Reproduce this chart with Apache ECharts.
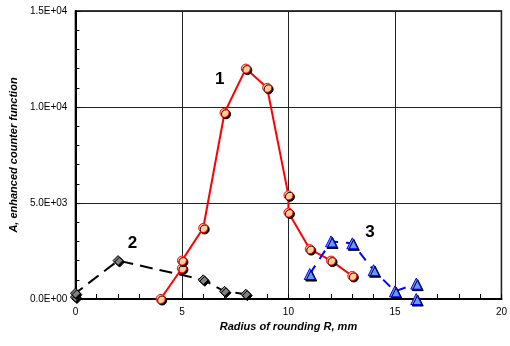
<!DOCTYPE html>
<html>
<head>
<meta charset="utf-8">
<script src="https://cdn.jsdelivr.net/npm/echarts@6/dist/echarts.min.js"></script>
<style>
  html, body { margin: 0; padding: 0; background: #fff; }
  #chart { width: 510px; height: 346px; }
</style>
</head>
<body>
<div id="chart"></div>
<script>
// Curve 1 (red, circles)
const r1 = [4, 5, 5, 6, 7, 8, 9, 10, 10, 11, 12, 13];
const a1 = [0, 1600, 2000, 3700, 9700, 12000, 11000, 5400, 4500, 2600, 2000, 1200];
// Curve 2 (black dashed, diamonds)
const r2 = [0, 0, 2, 6, 7, 8];
const a2 = [100, 300, 2000, 1000, 400, 250];
// Curve 3 (blue dashed, triangles)
const r3 = [11, 12, 13, 14, 15, 16, 16];
const a3 = [1300, 3000, 2900, 1500, 400, 800, 0];

// curve numbers, in data coordinates
const curveLabels = ['1', '2', '3'];
const labelX = [6.8, 2.7, 13.85];
const labelY = [11400, 2900, 3450];

const font = 'Arial, "Liberation Sans", sans-serif';
const pairs = (xs, ys) => xs.map((x, i) => [x, ys[i]]);

function sci(v) {
  if (v === 0) return '0.0E+00';
  const e = Math.floor(Math.log10(v));
  const m = (v / Math.pow(10, e)).toFixed(1);
  return m + 'E+' + String(e).padStart(2, '0');
}

const markerShadow = { shadowColor: '#000', shadowBlur: 0, shadowOffsetX: 1.5, shadowOffsetY: 1.5 };

const chart = echarts.init(document.getElementById('chart'), null, { renderer: 'canvas' });
chart.setOption({
  animation: false,
  grid: { left: 75, right: 6, top: 11, bottom: 47, show: true, borderColor: '#000', borderWidth: 1.5 },
  xAxis: {
    type: 'value', min: 0, max: 20, interval: 5,
    name: 'Radius of rounding R, mm', nameLocation: 'middle', nameGap: 18,
    nameTextStyle: { fontFamily: font, fontSize: 11, fontWeight: 'bold', fontStyle: 'italic', color: '#000' },
    axisLine: { lineStyle: { color: '#000', width: 2 } },
    axisTick: { inside: true, length: 5, lineStyle: { color: '#000' } },
    minorTick: { show: true, splitNumber: 5, length: 5, lineStyle: { color: '#000' } },
    axisLabel: { fontFamily: font, fontSize: 10, color: '#000', margin: 8 },
    splitLine: { show: true, lineStyle: { color: '#222', width: 1 } }
  },
  yAxis: {
    type: 'value', min: 0, max: 15000, interval: 5000,
    name: 'A, enhanced counter function', nameLocation: 'middle', nameGap: 48,
    nameTextStyle: { fontFamily: font, fontSize: 11, fontWeight: 'bold', fontStyle: 'italic', color: '#000' },
    axisLine: { lineStyle: { color: '#000', width: 2 } },
    axisTick: { inside: true, length: 5, lineStyle: { color: '#000' } },
    minorTick: { show: true, splitNumber: 5, length: 4, lineStyle: { color: '#000' } },
    axisLabel: { fontFamily: font, fontSize: 10, color: '#000', margin: 8, formatter: sci },
    splitLine: { show: true, lineStyle: { color: '#222', width: 1 } }
  },
  series: [
    {
      type: 'line', data: pairs(r1, a1),
      symbol: 'circle', symbolSize: 9,
      lineStyle: { color: '#FF0000', width: 2 },
      itemStyle: Object.assign({ color: '#FFCC99', borderColor: '#FF0000', borderWidth: 1 }, markerShadow)
    },
    {
      type: 'line', data: pairs(r2, a2),
      symbol: 'diamond', symbolSize: 10,
      lineStyle: { color: '#000', width: 2, type: [13, 7] },
      itemStyle: Object.assign({ color: '#808080', borderColor: '#000', borderWidth: 1 }, markerShadow)
    },
    {
      type: 'line', data: pairs(r3, a3),
      symbol: 'triangle', symbolSize: 11,
      lineStyle: { color: '#0000FF', width: 2, type: [10, 8] },
      itemStyle: Object.assign({ color: '#6699FF', borderColor: '#0000FF', borderWidth: 1 }, markerShadow)
    },
    {
      type: 'scatter', data: pairs(labelX, labelY),
      symbol: 'circle', symbolSize: 1, silent: true,
      itemStyle: { color: 'rgba(0,0,0,0)' },
      label: {
        show: true, position: [0, 0], align: 'center', verticalAlign: 'middle',
        formatter: p => curveLabels[p.dataIndex],
        fontFamily: font, fontSize: 17, fontWeight: 'bold', color: '#000', opacity: 1
      }
    }
  ]
});
</script>
</body>
</html>
